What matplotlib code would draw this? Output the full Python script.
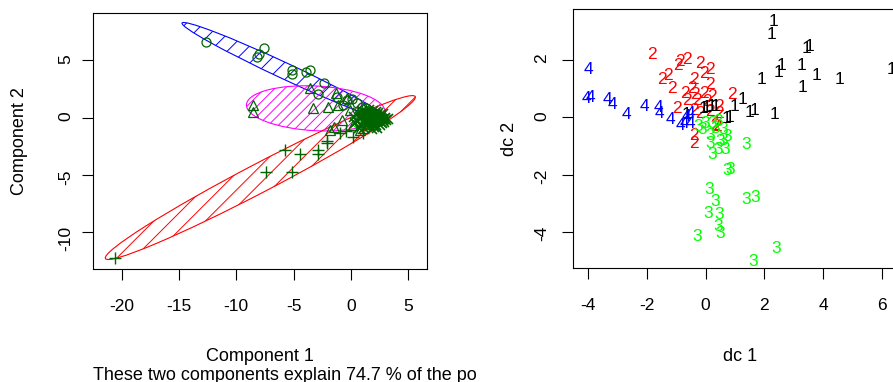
import numpy as np
import matplotlib.pyplot as plt
from matplotlib.patches import Ellipse
from matplotlib.transforms import Bbox, TransformedBbox

plt.rcParams['font.family'] = 'Liberation Sans'
plt.rcParams['axes.unicode_minus'] = False

# ---- clusplot (first two principal components) ----
# cluster ellipses: centre, semi axes, angle (deg)
ell_center = [(-5.8, 4.1), (-3.07, 0.82), (-7.9, -5.22), (1.7, -0.25)]
ell_axes = [(9.85, 0.7), (6.05, 1.95), (15.25, 1.25), (1.5, 0.75)]
ell_angle = [-25, -3, 27.6, 15]
ell_col = ['blue', 'magenta', 'red', '#00FF00']
ell_gap = [1.5, 0.88, 1.5, 0.35]   # shading line spacing

c1_x = [-12.66, -7.6, -8.0, -8.15, -5.18, -5.12, -3.93, -3.58, -2.33, -2.85,
        -1.25, -0.38, 0.06, 0.5, 0.93, 1.3, -0.67]
c1_y = [6.59, 6.06, 5.56, 5.27, 4.17, 3.82, 3.96, 4.17, 3.06, 2.04,
        1.78, 1.55, 1.6, 1.26, 0.96, 0.85, 1.11]
c2_x = [-8.53, -8.53, -3.58, -3.29, -2.04, -1.31, -1.11, -0.81, -1.83,
        -0.09, -0.38, 0.2, 0.79, -1.5]
c2_y = [1.11, 0.52, 2.57, 0.87, 0.96, 2.13, 1.11, -0.2, -1.07,
        0.67, 1.69, -0.64, -1.07, -0.85]
c3_x = [-20.6, -5.76, -4.45, -2.85, -2.85, -2.07, -2.07, -7.42, -5.18,
        0.2, 1.08, -0.4, -0.96]
c3_y = [-12.28, -2.82, -3.17, -2.82, -3.17, -2.01, -2.24, -4.77, -4.77,
        -1.66, -1.36, -1.2, -1.36]
c4_x = [0.5, 0.8, 1.0, 1.2, 1.4, 1.5, 1.6, 1.7, 1.8, 1.9, 2.0, 2.1, 2.2, 2.3,
        2.4, 2.5, 2.6, 2.7, 2.8, 1.1, 1.3, 0.9, 1.6, 2.0, 2.2, 1.0, 0.3, 0.6,
        1.8, 2.4, 2.9, 1.4, 1.2, 0.7, 2.6, 1.9, 1.7, 2.1, 2.5, 2.3,
        3.0, 3.1, 2.8, 2.7, 1.5, 1.3, 0.9, 1.1, 2.0, 2.3, 1.6, 1.9, 2.6, 3.2,
        0.4, 0.8, 1.4, 2.1, 2.9, 1.7]
c4_y = [-0.3, -0.1, 0.2, -0.5, 0.0, 0.4, -0.2, -0.7, 0.1, -0.4, 0.3, -0.1,
        -0.6, 0.0, -0.3, 0.1, -0.4, -0.1, -0.2, -0.9, -0.3, -0.6, 0.7, -0.8,
        0.5, 0.6, 0.1, 0.4, -1.0, 0.4, -0.4, -0.7, 0.5, -0.9, 0.2, 0.6, 0.3,
        -0.3, -0.6, -0.9,
        0.0, -0.2, 0.3, -0.5, -0.4, 0.2, 0.0, -0.2, -0.3, 0.2, -0.5, -0.6,
        0.0, -0.1, -0.5, 0.1, 0.3, 0.1, -0.1, 0.0]

# ---- discriminant coordinates ----
d1_x = [2.31, 2.23, 3.42, 3.53, 3.27, 2.59, 2.48, 3.76, 4.55, 1.89, 3.31, 6.33,
        1.25, 0.97, 1.51, 1.68, 2.34, 0.72, 0.83, 0.21, 0.04, -0.07, -0.64, 0.32]
d1_y = [3.33, 2.87, 2.4, 2.46, 1.82, 1.82, 1.55, 1.44, 1.33, 1.32, 1.05, 1.65,
        0.63, 0.37, 0.17, 0.25, 0.10, -0.03, 0.0, 0.37, 0.35, 0.31, 0.08, 0.37]
d2_x = [-1.83, -0.87, -0.64, -0.93, -0.19, 0.15, -0.07, -1.27, -1.49, -1.15,
        -0.41, 0.15, 0.89, -0.47, -0.70, -0.36, -0.07, 0.21, -0.64, -0.30,
        0.04, 0.47, -0.98, -0.41, -0.19, 0.15, 0.44, 0.32, 0.38, -0.39, -0.39]
d2_y = [2.17, 1.94, 2.0, 1.82, 1.88, 1.65, 1.53, 1.47, 1.3, 1.01,
        1.3, 1.13, 0.81, 1.01, 0.84, 0.78, 0.84, 0.72, 0.60, 0.60,
        0.54, 0.39, 0.31, 0.25, 0.14, 0.20, 0.14, -0.27, -0.33, -0.62, -0.91]
d3_x = [1.38, 0.72, 0.61, 0.44, 0.21, 0.32, -0.13, -0.24, 0.15, 0.15, 0.44,
        0.66, 0.49, 0.21, 0.72, 0.83, 0.12, 1.38, 1.68, 0.32, 0.10, 0.47,
        0.44, 0.49, -0.28, 2.39, 1.61, -0.02, 0.61]
d3_y = [-0.94, -0.68, -0.44, -0.15, -0.21, -0.38, -0.44, -0.33, -0.62, -0.91,
        -1.14, -1.14, -0.85, -1.31, -1.84, -1.81, -2.51, -2.88, -2.79, -2.94,
        -3.34, -3.40, -3.81, -4.04, -4.16, -4.56, -5.01, -0.21, -0.80]
d4_x = [-3.97, -4.06, -3.93, -3.34, -3.16, -2.70, -2.09, -1.61, -1.57, -1.21,
        -0.87, -0.73, -0.53, -0.53, -0.64]
d4_y = [1.67, 0.66, 0.70, 0.63, 0.46, 0.08, 0.39, 0.35, 0.14, -0.09,
        -0.30, -0.21, -0.23, 0.14, 0.02]

FS = 12.5    # tick labels and point labels
LFS = 13     # axis titles
W, H = 893, 382


def shaded_ellipse(ax, c, ab, ang, col, gap):
    e = Ellipse(c, 2 * ab[0], 2 * ab[1], angle=ang, fill=False, ec=col, lw=0.8)
    ax.add_patch(e)
    r = ab[0] + 1
    xs = np.array([c[0] - 2 * r, c[0] + 2 * r])
    for k in np.arange(c[0] - c[1] - 2 * r, c[0] - c[1] + 2 * r, gap):
        ln, = ax.plot(xs, xs - k, color=col, lw=0.7)
        ln.set_clip_path(e)


def style_axes(ax, ypad):
    for s in ax.spines.values():
        s.set_linewidth(0.8)
    ax.tick_params(direction='out', length=7.9, width=0.8, labelsize=FS)
    ax.tick_params(axis='x', pad=14)
    ax.tick_params(axis='y', pad=ypad, labelrotation=90)


fig = plt.figure(figsize=(W / 100, H / 100), dpi=100)

# left panel
ax1 = fig.add_axes([93 / W, 1 - 269 / H, 334 / W, 256 / H])
ax1.set_xlim(-22.5, 6.64)
ax1.set_ylim(-13.2, 9.14)
for c, ab, ang, col, gap in zip(ell_center, ell_axes, ell_angle, ell_col, ell_gap):
    shaded_ellipse(ax1, c, ab, ang, col, gap)
pc = '#006400'
ax1.plot(c1_x, c1_y, 'o', mfc='none', mec=pc, ms=6.5, mew=0.9)
ax1.plot(c2_x, c2_y, '^', mfc='none', mec=pc, ms=7.5, mew=0.9)
ax1.plot(c3_x, c3_y, '+', color=pc, ms=9, mew=1.0)
ax1.plot(c4_x, c4_y, 'x', color=pc, ms=6.5, mew=1.2)
ax1.set_xticks([-20, -15, -10, -5, 0, 5])
ax1.set_yticks([-10, -5, 0, 5])
style_axes(ax1, 6)
ax1.set_xlabel('Component 1', fontsize=LFS, va='baseline')
ax1.xaxis.set_label_coords(0.5, (269 - 361) / 256)
ax1.set_ylabel('Component 2', fontsize=LFS, va='center')
ax1.yaxis.set_label_coords((20 - 93) / 334, 0.5)

sub = fig.text(93 / W, 2 / H,
               'These two components explain 74.7 % of the point variability.',
               ha='left', va='baseline', fontsize=LFS)
sub.set_clip_box(TransformedBbox(Bbox.from_extents(0, 0, 478 / W, 1), fig.transFigure))
sub.set_clip_on(True)

# right panel
ax2 = fig.add_axes([572.7 / W, 1 - 268 / H, 334 / W, 258.7 / H])
ax2.set_xlim(-4.52, 6.84)
ax2.set_ylim(-5.25, 3.76)
groups = [(d2_x, d2_y, '2', 'red'), (d3_x, d3_y, '3', '#00FF00'),
          (d1_x, d1_y, '1', 'black'), (d4_x, d4_y, '4', 'blue')]
for xs, ys, lab, col in groups:
    for x, y in zip(xs, ys):
        ax2.text(x, y, lab, color=col, fontsize=FS, ha='center', va='center',
                 clip_on=True)
ax2.set_xticks([-4, -2, 0, 2, 4, 6])
ax2.set_yticks([-4, -2, 0, 2])
style_axes(ax2, 9)
ax2.set_xlabel('dc 1', fontsize=LFS, va='baseline')
ax2.xaxis.set_label_coords(0.5, (268 - 361) / 258.7)
ax2.set_ylabel('dc 2', fontsize=LFS, va='center')
ax2.yaxis.set_label_coords((510 - 572.7) / 334, 0.5)

fig.savefig('out.png', dpi=100)
